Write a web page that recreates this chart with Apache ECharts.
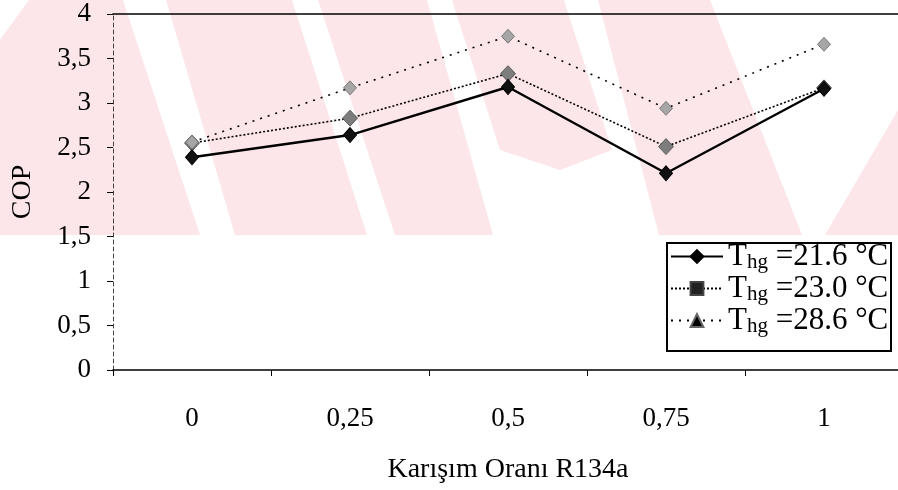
<!DOCTYPE html>
<html>
<head>
<meta charset="utf-8">
<title>COP – Karışım Oranı R134a</title>
<script src="https://cdn.jsdelivr.net/npm/echarts@6/dist/echarts.min.js"></script>
<style>
  html, body { margin: 0; padding: 0; background: #ffffff; }
  #chart { width: 898px; height: 490px; }
</style>
</head>
<body>
<div id="chart"></div>
<script>
// Mixing ratio of R134a (x categories)
const ratios = ['0', '0,25', '0,5', '0,75', '1'];

// Hot-gas temperatures for the three runs
const temps = ['21.6', '23.0', '28.6'];

// COP values per run
const copT216 = [2.39, 2.64, 3.18, 2.21, 3.16];
const copT230 = [2.55, 2.83, 3.33, 2.51, 3.17];
const copT286 = [2.56, 3.17, 3.75, 2.94, 3.66];

// Y axis ticks
const yMin = 0, yMax = 4, yStep = 0.5;

const serif = "'Liberation Serif', 'Times New Roman', 'DejaVu Serif', serif";
const seriesNames = temps.map(t => 'Thg =' + t + ' °C');

// Points are drawn as diamonds; the legend keeps each run's own symbol
const asDiamonds = arr => arr.map(v => ({ value: v, symbol: 'diamond' }));

// Pale diagonal background bands behind the upper part of the plot
const pink = '#fce6ea';
const bands = [
  [[29, 0], [123, 0], [200, 235], [0, 235], [0, 40]],
  [[166, 0], [292, 0], [367, 235], [235, 235]],
  [[318, 0], [427, 0], [493, 235], [395, 235]],
  [[452, 0], [564, 0], [612, 150], [560, 170], [500, 150]],
  [[598, 0], [710, 0], [802, 235], [659, 235]],
  [[825, 235], [898, 235], [898, 110]]
];

const chart = echarts.init(document.getElementById('chart'), null, { renderer: 'canvas' });

const option = {
  backgroundColor: '#ffffff',
  animation: false,
  textStyle: { fontFamily: serif, color: '#000' },
  graphic: [
    ...bands.map(pts => ({
      type: 'polygon',
      silent: true,
      z: -10,
      shape: { points: pts },
      style: { fill: pink }
    })),
    {
      type: 'rect',
      silent: true,
      z: 5,
      shape: { x: 667, y: 243, width: 224, height: 108 },
      style: { fill: 'none', stroke: '#000', lineWidth: 2 }
    }
  ],
  grid: {
    left: 113, right: -5, top: 14, bottom: 120,
    containLabel: false,
    outerBoundsMode: 'none'
  },
  legend: {
    orient: 'vertical',
    left: 670,
    top: 241,
    padding: 0,
    itemGap: 0,
    itemWidth: 52,
    itemHeight: 16,
    z: 6,
    data: [
      { name: seriesNames[0], itemStyle: { color: '#000' } },
      { name: seriesNames[1], itemStyle: { color: '#222' } },
      { name: seriesNames[2], itemStyle: { color: '#000' } }
    ],
    formatter: name => '{t|T}{s|hg}{t|' + name.slice(3) + '}',
    textStyle: {
      rich: {
        t: { fontFamily: serif, fontSize: 31, lineHeight: 33, color: '#000' },
        s: { fontFamily: serif, fontSize: 21, lineHeight: 4, verticalAlign: 'bottom', color: '#000' }
      }
    }
  },
  xAxis: [
    {
      type: 'category',
      data: ratios,
      boundaryGap: true,
      name: 'Karışım Oranı R134a',
      nameLocation: 'middle',
      nameGap: 86,
      nameTextStyle: { fontFamily: serif, fontSize: 28, color: '#000' },
      axisLine: { show: true, lineStyle: { color: '#000', width: 1.5 } },
      axisTick: { show: true, length: 6, lineStyle: { color: '#000', width: 1 } },
      axisLabel: { fontFamily: serif, fontSize: 27, color: '#000', margin: 35 },
      splitLine: { show: false }
    },
    {
      type: 'category',
      data: ratios,
      position: 'top',
      axisLine: { show: true, lineStyle: { color: '#000', width: 1.5 } },
      axisTick: { show: false },
      axisLabel: { show: false },
      splitLine: { show: false }
    }
  ],
  yAxis: {
    type: 'value',
    min: yMin,
    max: yMax,
    interval: yStep,
    name: 'COP',
    nameLocation: 'middle',
    nameGap: 76,
    nameTextStyle: { fontFamily: serif, fontSize: 28, color: '#000' },
    axisLine: { show: true, lineStyle: { color: '#444', width: 1, type: [4, 3] } },
    axisTick: { show: true, length: 6, lineStyle: { color: '#000', width: 1 } },
    axisLabel: {
      fontFamily: serif, fontSize: 27, color: '#000', margin: 22,
      formatter: v => String(v).replace('.', ',')
    },
    splitLine: { show: false }
  },
  series: [
    {
      name: seriesNames[0],
      type: 'line',
      data: copT216,
      symbol: 'diamond',
      symbolSize: [13, 15],
      lineStyle: { color: '#000', width: 2.4, type: 'solid' },
      itemStyle: { color: '#111', borderColor: '#000', borderWidth: 1 },
      z: 4
    },
    {
      name: seriesNames[1],
      type: 'line',
      data: asDiamonds(copT230),
      symbol: 'rect',
      symbolSize: [15, 16],
      lineStyle: { color: '#000', width: 1.6, type: [2, 2] },
      itemStyle: { color: '#7d7d7d', borderColor: '#444', borderWidth: 0.8 },
      z: 3
    },
    {
      name: seriesNames[2],
      type: 'line',
      data: asDiamonds(copT286),
      symbol: 'triangle',
      symbolSize: [13, 14],
      lineStyle: { color: '#000', width: 1.6, type: [2, 6] },
      itemStyle: { color: '#a6a6a6', borderColor: '#666', borderWidth: 0.8 },
      z: 3
    }
  ]
};

chart.setOption(option);
</script>
</body>
</html>
